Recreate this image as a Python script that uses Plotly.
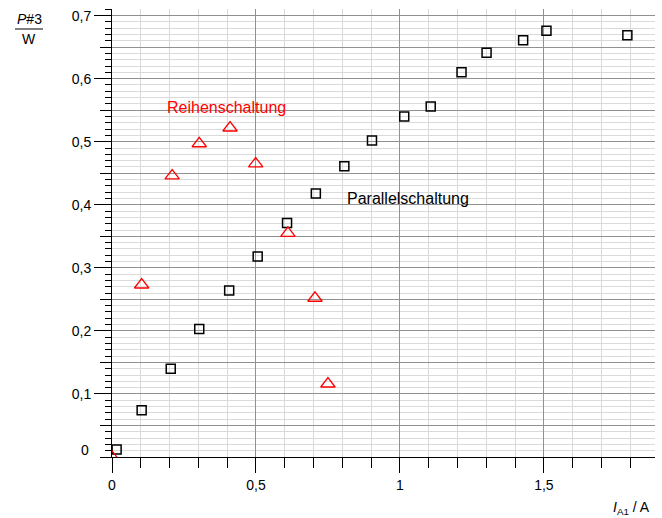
import plotly.graph_objects as go

# Parallelschaltung (black squares)
par_x = [0.016, 0.103, 0.204, 0.303, 0.407, 0.506, 0.608, 0.708, 0.807, 0.903,
         1.015, 1.107, 1.214, 1.301, 1.428, 1.509, 1.790]
par_y = [0.012, 0.074, 0.140, 0.203, 0.264, 0.318, 0.371, 0.418, 0.461, 0.502,
         0.540, 0.556, 0.610, 0.641, 0.661, 0.676, 0.669]

# Reihenschaltung (red triangles)
rei_x = [0.0, 0.103, 0.209, 0.303, 0.410, 0.499, 0.611, 0.705, 0.750]
rei_y = [0.0, 0.273, 0.446, 0.497, 0.522, 0.465, 0.355, 0.252, 0.116]

y_tickvals = [0.1, 0.2, 0.3, 0.4, 0.5, 0.6, 0.7]
y_ticktext = ["0,1", "0,2", "0,3", "0,4", "0,5", "0,6", "0,7"]

W, H = 662, 518
# plot area in page pixels
L, R, T, B = 112, 655, 9, 457
FONT = "Liberation Sans, Arial, Helvetica, sans-serif"
DARK = "#919191"
LIGHT = "#dadada"


def px(xp):
    return (xp - L) / (R - L)


def py(yp):
    return (B - yp) / (B - T)


fig = go.Figure()
fig.add_trace(go.Scatter(
    x=par_x, y=par_y, mode="markers", name="Parallelschaltung",
    marker=dict(symbol="square-open", size=9, color="black",
                line=dict(width=1.5, color="black")),
))
fig.add_trace(go.Scatter(
    x=rei_x, y=rei_y, mode="markers", name="Reihenschaltung",
    marker=dict(symbol="triangle-up-open", size=12.5, color="red",
                line=dict(width=1.3, color="red")),
))
# helper trace so the overlay axis (long 0.1 ticks + labels) is drawn
fig.add_trace(go.Scatter(x=[0], y=[0], yaxis="y2", mode="markers",
                         marker=dict(opacity=0), showlegend=False, hoverinfo="skip"))

yr = [0, 0.7105]
fig.update_layout(
    width=W, height=H,
    margin=dict(l=L, r=W - R, t=T, b=H - B, pad=0),
    paper_bgcolor="white", plot_bgcolor="white",
    showlegend=False,
    separators=",.",
    font=dict(family=FONT, size=14, color="black"),
    xaxis=dict(
        range=[0, 1.886], tick0=0, dtick=0.5,
        ticks="outside", ticklen=15, tickcolor="black", tickwidth=1,
        showgrid=True, gridcolor=DARK, gridwidth=1,
        showline=True, linecolor="black", linewidth=1,
        zeroline=False,
        tickfont=dict(size=14, color="black"),
        minor=dict(dtick=0.1, tick0=0, ticks="outside", ticklen=10,
                   tickcolor="black", showgrid=True, gridcolor=LIGHT, gridwidth=1),
    ),
    yaxis=dict(
        range=yr, tick0=0, dtick=0.05,
        ticks="outside", ticklen=11, tickcolor="black", tickwidth=1,
        showticklabels=False,
        showgrid=True, gridcolor=DARK, gridwidth=1,
        showline=True, linecolor="black", linewidth=1,
        zeroline=False,
        minor=dict(dtick=0.01, tick0=0, ticks="outside", ticklen=6,
                   tickcolor="black", showgrid=True, gridcolor=LIGHT, gridwidth=1),
    ),
    yaxis2=dict(
        overlaying="y", anchor="x", side="left",
        range=yr, tickmode="array", tickvals=y_tickvals, ticktext=y_ticktext,
        ticks="outside", ticklen=17, tickcolor="black", tickwidth=1,
        showgrid=False, zeroline=False, showline=False,
        tickfont=dict(size=14, color="black"),
    ),
)

ann = []
# zero label on y axis (sits slightly above the axis)
ann.append(dict(text="0", xref="paper", yref="y", x=0, y=0, xanchor="right",
                yanchor="middle", xshift=-21, yshift=7, showarrow=False,
                font=dict(size=14, color="black")))
# series labels
ann.append(dict(text="Reihenschaltung", xref="x", yref="y", x=0.396, y=0.554,
                showarrow=False, font=dict(size=16, color="red")))
ann.append(dict(text="Parallelschaltung", xref="x", yref="y", x=1.028, y=0.410,
                showarrow=False, font=dict(size=16, color="black")))
# y axis title as a fraction
ann.append(dict(text="<i>P</i>#3", xref="paper", yref="paper", x=px(29), y=py(19),
                xanchor="center", yanchor="middle", showarrow=False,
                font=dict(size=14, color="black")))
ann.append(dict(text="W", xref="paper", yref="paper", x=px(29), y=py(39),
                xanchor="center", yanchor="middle", showarrow=False,
                font=dict(size=14, color="black")))
# x axis title
ann.append(dict(text="<i>I</i><sub>A1</sub> / A", xref="paper", yref="paper",
                x=px(652), y=py(508), xanchor="right", yanchor="middle",
                showarrow=False, font=dict(size=14, color="black")))
fig.update_layout(annotations=ann)

fig.add_shape(type="line", xref="paper", yref="paper",
              x0=px(15), x1=px(43), y0=py(29), y1=py(29),
              line=dict(color="black", width=1))

fig.write_html(
    "out.html",
    config={"displayModeBar": False},
    post_script="document.body.style.margin='0';document.body.style.overflow='hidden';",
)
